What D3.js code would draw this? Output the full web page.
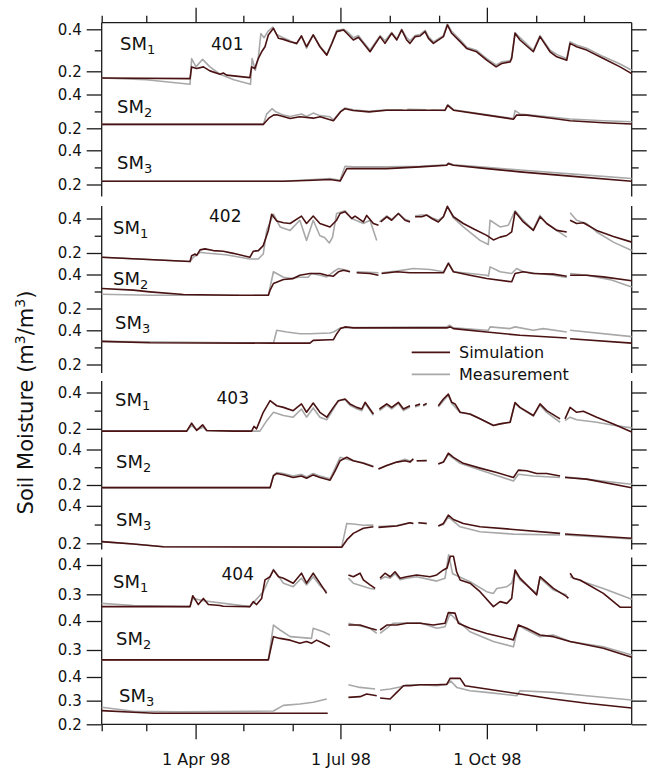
<!DOCTYPE html>
<html>
<head>
<meta charset="utf-8">
<script src="https://cdn.jsdelivr.net/npm/d3@7"></script>
<style>
  body { margin: 0; background: #fff; }
  svg text { font-family: "DejaVu Sans", sans-serif; fill: #111; }
</style>
</head>
<body>
<div id="plot"></div>
<script>
// soil moisture, sites 401-404, three layers each
// points are [day of year 1998, value in m3/m3]; null marks a gap in the record

const sites = ["401", "402", "403", "404"];
const layers = ["1", "2", "3"];
const seriesNames = ["Simulation", "Measurement"];
const xMajor = ["1998-04-01", "1998-07-01", "1998-10-01"];

const sim401_1 = [[32,.168],[87.5,.165],[88.5,.221],[91.7,.213],[95.9,.221],[100,.202],[106.3,.186],[108.4,.192],[110.5,.182],[125.1,.170],[126.2,.221],[128.2,.213],[130.4,.261],[132.5,.293],[134.6,.317],[136.7,.373],[139.9,.405],[143.1,.357],[146.2,.352],[150.4,.341],[154.5,.333],[157.5,.368],[160.7,.317],[164.9,.373],[169.1,.317],[173.4,.277],[176.5,.33],[179.7,.389],[183.9,.397],[186,.381],[190.1,.349],[193.3,.362],[196.4,.333],[200.6,.293],[206.9,.365],[210,.333],[214.2,.381],[217.4,.349],[220.5,.397],[223.6,.349],[225.7,.333],[228.9,.365],[232,.368],[235.2,.389],[237.3,.357],[240.4,.333],[246.7,.365],[249.2,.421],[251.9,.381],[257.2,.341],[261.3,.309],[267.6,.293],[273.9,.253],[279.8,.221],[283.3,.237],[288.6,.245],[289.6,.261],[291.7,.381],[294.8,.349],[303.2,.293],[307.4,.365],[313.7,.293],[317.9,.269],[324.2,.253],[326.3,.333],[330.4,.317],[336.7,.301],[347.2,.261],[357.7,.221],[365,.189]];
const meas401_1 = [[32,.168],[60,.16],[87.5,.138],[88.5,.261],[91.2,.221],[95.4,.257],[100,.221],[106.3,.186],[115,.16],[125.5,.138],[126.5,.261],[128.5,.205],[130.5,.27],[132,.38],[134,.36],[136.5,.39],[139.5,.41],[142,.375],[146,.36],[150.4,.345],[154.5,.33],[157.5,.37],[160.7,.31],[164.9,.375],[169.1,.32],[173.5,.28],[176.5,.335],[179.7,.395],[183.9,.40],[186,.39],[190.1,.36],[193.3,.37],[196.4,.34],[200.6,.30],[206.9,.37],[210,.345],[214.2,.385],[217.4,.355],[220.5,.40],[223.6,.36],[225.7,.345],[228.9,.37],[232,.375],[235.2,.395],[237.3,.365],[240.4,.34],[246.7,.37],[249.2,.425],[251.9,.39],[257.2,.35],[261.3,.315],[267.6,.30],[273.9,.26],[279.8,.23],[283.3,.245],[288.6,.25],[289.6,.27],[291.7,.385],[294.8,.36],[303.2,.30],[307.4,.37],[313.7,.30],[317.9,.28],[324.2,.26],[326.3,.34],[330.4,.325],[336.7,.31],[347.2,.27],[357.7,.235],[365,.205]];
const sim401_2 = [[32,.223],[133.5,.223],[137,.26],[139.9,.278],[142,.28],[146,.27],[150.4,.258],[156.5,.268],[165,.26],[169.2,.268],[177.6,.245],[182,.297],[184.9,.316],[190,.305],[200,.297],[211,.307],[232,.307],[247.7,.307],[249.4,.336],[253,.307],[273.9,.278],[290.7,.254],[292.7,.278],[299,.278],[315.8,.258],[326.3,.245],[347.2,.233],[365,.225]];
const meas401_2 = [[32,.223],[133.5,.223],[135.7,.285],[139,.316],[141,.30],[146.2,.278],[150.4,.27],[157.5,.285],[160.7,.27],[164.9,.29],[169.1,.275],[175.4,.268],[177.6,.25],[182,.30],[184.9,.32],[190,.31],[200,.30],[211,.31],[221,.31],[222,null],[224,.312],[236,.31],[237,null],[239,.308],[247.7,.305],[249.4,.34],[253,.31],[273.9,.28],[290.7,.258],[291.7,.305],[294.8,.285],[315.8,.265],[326.3,.255],[347.2,.245],[365,.239]];
const sim401_3 = [[32,.219],[146,.219],[165,.225],[175.4,.229],[181.8,.22],[186,.293],[190,.293],[211,.293],[232,.303],[248.8,.313],[249.8,.322],[253,.313],[273.9,.293],[294.8,.274],[326.3,.249],[365,.219]];
const meas401_3 = [[32,.219],[146,.219],[165,.229],[175.4,.235],[181.8,.225],[184.9,.307],[190,.303],[211,.303],[232,.307],[248.8,.315],[249.8,.326],[253,.315],[273.9,.30],[294.8,.285],[326.3,.262],[365,.235]];

const sim402_1 = [[32,.175],[87.5,.151],[88.5,.184],[90.7,.194],[91.7,.186],[93.8,.218],[96.9,.224],[102.1,.214],[108.4,.21],[114.7,.198],[125.1,.175],[127.2,.21],[130.4,.214],[133.5,.243],[136.7,.331],[138.8,.425],[142,.386],[146.2,.375],[150.4,.371],[157.5,.414],[160.7,.371],[164.9,.414],[169.1,.371],[175.4,.351],[179.6,.39],[181.8,.429],[184.9,.439],[189.1,.40],[191.2,.414],[196.4,.38],[198.5,.418],[202.7,.371],[205.9,.361],[206.4,null],[207.3,.38],[211.1,.41],[214.2,.39],[218.4,.429],[222.6,.39],[225.7,.38],[227,null],[228.9,.41],[233.1,.41],[236.2,.42],[239.4,.40],[243.5,.38],[246.7,.41],[249.2,.469],[253,.41],[259.2,.371],[265.5,.341],[273.9,.302],[278.1,.276],[282.3,.292],[286.5,.302],[289.6,.322],[291.7,.439],[296.9,.38],[303.2,.331],[307.4,.41],[311.6,.371],[317.9,.331],[324.2,.322],[325.2,null],[326.3,.39],[330.4,.371],[334.6,.375],[343,.331],[353.5,.296],[365,.263]];
const meas402_1 = [[32,.175],[87.5,.151],[89.6,.175],[93.8,.204],[97,.20],[110,.19],[125.1,.165],[130.4,.165],[133.5,.194],[135.7,.331],[139.9,.425],[144.1,.351],[150.4,.331],[156.5,.39],[160.7,.273],[164.9,.39],[169.1,.30],[172,.29],[175,.258],[177,.29],[179.6,.429],[184.9,.445],[189.1,.40],[196.4,.371],[200.6,.39],[204.8,.273],[205.9,null],[206.5,.38],[211.1,.415],[214.2,.395],[218.4,.43],[222.6,.395],[225.7,.385],[227,null],[228.9,.415],[233.1,.42],[236.2,.42],[239.4,.405],[243.5,.39],[246.7,.41],[249.2,.473],[253,.404],[259.2,.351],[269.7,.273],[274.9,.249],[276,.39],[282.3,.351],[287.5,.361],[291.7,.445],[296.9,.39],[303.2,.335],[307.4,.418],[311.6,.371],[324.2,.292],[325.2,null],[326.3,.433],[330.4,.39],[336.7,.371],[343,.322],[353.5,.263],[365,.214]];
const sim402_2 = [[32,.318],[51.9,.308],[62.3,.298],[83.3,.282],[114.7,.278],[136.7,.278],[137.8,.308],[139.9,.347],[146.2,.371],[152.3,.376],[156.5,.396],[162.8,.406],[169.2,.406],[173.4,.396],[177.6,.39],[180.7,.416],[183.9,.425],[188,.416],[190.1,null],[192.2,.41],[200.6,.406],[205.9,.396],[206.5,null],[207.9,.406],[217.4,.416],[225.7,.41],[238.3,.41],[246.7,.41],[249.8,.465],[253,.416],[263.4,.396],[273.9,.376],[289.6,.357],[291.7,.406],[296.9,.416],[303.2,.406],[315.8,.402],[324.2,.39],[325.2,null],[326.3,.396],[336.7,.396],[347.2,.386],[365,.363]];
const meas402_2 = [[32,.284],[62.3,.278],[118,.278],[119,null],[127.5,.278],[136.7,.278],[139.9,.416],[146.2,.384],[150.4,.378],[156.5,.384],[161.7,.384],[163.8,.406],[169.2,.396],[173.4,.386],[177.6,.416],[180.7,.435],[186,.425],[188,.416],[190.1,null],[192.2,.416],[205.9,.41],[206.5,null],[207.9,.41],[217.4,.42],[227.8,.435],[238.3,.429],[246.7,.416],[250,.469],[253,.416],[273.9,.396],[275,.39],[276,.445],[282.3,.416],[289.6,.406],[292.7,.435],[296.9,.416],[315.8,.396],[324.2,.382],[325.2,null],[326.3,.406],[336.7,.396],[351.4,.37],[365,.327]];
const sim402_3 = [[32,.335],[62.3,.327],[139.9,.325],[162.8,.325],[164.9,.341],[175.4,.345],[177.6,.345],[179.7,.38],[182,.41],[184.9,.42],[190.1,.414],[248.8,.414],[250.9,.42],[253,.41],[273.9,.39],[294.8,.371],[324.2,.355],[325.2,null],[326.3,.351],[365,.325]];
const meas402_3 = [[32,.335],[139.9,.325],[142,.40],[148.3,.39],[156.5,.38],[162.8,.38],[175.4,.384],[177.6,.39],[182,.414],[190.1,.416],[248.8,.42],[250.5,.43],[253,.414],[273.9,.40],[274.9,.40],[276,.42],[288.6,.41],[291.7,.42],[303.2,.40],[309.5,.41],[324.2,.39],[325.2,null],[326.3,.40],[365,.363]];

const sim403_1 = [[32,.187],[85.4,.187],[88.5,.231],[91.7,.191],[95.4,.222],[98,.191],[114.7,.187],[126.2,.187],[127.7,.213],[129.3,.20],[131.4,.245],[133.5,.291],[137.8,.355],[142,.327],[146.2,.318],[152.3,.30],[157.5,.337],[160.7,.291],[164.9,.342],[169.1,.291],[173.4,.264],[177.6,.318],[180.7,.355],[184.9,.364],[188,.337],[192.2,.318],[195.4,.309],[197.5,.346],[202.7,.282],[204.5,null],[206.5,.309],[211.1,.337],[214.2,.318],[218.4,.346],[221.6,.309],[225.7,.327],[227,null],[228.9,.327],[232,.337],[233.5,null],[234,.33],[236.2,.34],[237.5,null],[243.5,.327],[246.7,.364],[249.8,.391],[251.9,.346],[254,.337],[257.2,.291],[263.4,.282],[269.7,.255],[278.1,.218],[282.3,.227],[288.6,.236],[291.7,.345],[294.8,.318],[303.2,.273],[307.4,.337],[311.6,.30],[320,.255],[321.5,null],[323.1,.255],[326.3,.318],[330.4,.291],[334.6,.297],[343,.264],[353.5,.227],[365,.182]];
const meas403_1 = [[32,.187],[85.4,.187],[88.5,.218],[91.7,.195],[95.9,.209],[98,.19],[131.4,.187],[135.7,.245],[139.9,.291],[146.2,.273],[152.3,.264],[157.5,.309],[160.7,.264],[164.9,.315],[169.1,.264],[173.4,.25],[177.6,.309],[180.7,.355],[184.9,.36],[188,.33],[192.2,.31],[195.4,.30],[197.5,.34],[202.7,.275],[204.5,null],[206.5,.30],[211.1,.33],[214.2,.31],[218.4,.34],[221.6,.30],[225.7,.32],[227,null],[228.9,.32],[232,.33],[233.5,null],[234,.325],[236.2,.335],[237.5,null],[243.5,.32],[246.7,.355],[249.8,.385],[251.9,.34],[257.2,.29],[263.4,.28],[269.7,.255],[278.1,.22],[282.3,.227],[288.6,.236],[291.7,.34],[294.8,.315],[303.2,.27],[307.4,.33],[311.6,.29],[320,.236],[321.5,null],[323.1,.245],[326.3,.264],[330.4,.25],[343,.236],[353.5,.22],[365,.205]];
const sim403_2 = [[32,.185],[137.8,.185],[139.9,.251],[142,.265],[146.2,.258],[152.3,.242],[157.5,.251],[160.7,.238],[164.9,.257],[169.2,.242],[175.5,.227],[178.6,.278],[181.8,.337],[186,.356],[190.1,.337],[196.4,.322],[202.7,.303],[204,null],[205.9,.29],[211.1,.31],[217.4,.329],[222.6,.337],[225.7,.329],[227.8,.348],[229,null],[229.9,.337],[236.2,.337],[238,null],[243.5,.318],[246.7,.329],[249.8,.379],[253,.356],[259.2,.322],[269.7,.295],[280.2,.27],[290.7,.242],[293.8,.284],[299,.28],[305.3,.265],[311.6,.265],[320,.251],[321.5,null],[323.1,.242],[336.7,.233],[365,.185]];
const meas403_2 = [[32,.185],[137.8,.185],[139.9,.255],[142,.27],[146.2,.265],[152.3,.25],[157.5,.26],[160.7,.245],[164.9,.265],[169.2,.25],[175.5,.235],[181.8,.356],[186,.345],[190.1,.337],[196.4,.325],[202.7,.305],[204,null],[205.9,.29],[211.1,.31],[217.4,.33],[222.6,.345],[225.7,.335],[227.8,.34],[229,null],[229.9,.335],[236.2,.34],[238,null],[243.5,.32],[246.7,.33],[249.8,.371],[257.2,.322],[269.7,.284],[290.7,.223],[293.8,.261],[303.2,.251],[320,.242],[321.5,null],[323.1,.246],[365,.204]];
const sim403_3 = [[32,.209],[51.9,.196],[70.7,.182],[182.8,.179],[186,.218],[190.1,.253],[196.4,.28],[202.7,.288],[204,null],[205.9,.285],[217.4,.292],[225.7,.31],[227.8,.306],[229,null],[231,.31],[236.2,.306],[238,null],[243.5,.292],[246.7,.306],[249.8,.35],[253,.327],[259.2,.306],[269.7,.288],[290.7,.274],[320,.253],[321.5,null],[323.1,.25],[365,.227]];
const meas403_3 = [[32,.209],[51.9,.196],[70.7,.182],[182.8,.182],[186,.306],[190.1,.303],[196.4,.296],[202.7,.297],[204,null],[205.9,.29],[217.4,.295],[225.7,.31],[227.8,.305],[229,null],[231,.31],[236.2,.305],[238,null],[243.5,.292],[246.7,.30],[249.8,.341],[257.2,.288],[269.7,.262],[290.7,.249],[320,.244],[321.5,null],[323.1,.244],[365,.223]];

const sim404_1 = [[32,.258],[87.5,.258],[89.2,.295],[92.7,.265],[95.9,.286],[99,.265],[106.3,.262],[108.4,.259],[125.1,.258],[127.2,.275],[129.3,.265],[132.5,.286],[134.6,.349],[137.8,.36],[139.9,.383],[143.1,.36],[146.2,.355],[152.3,.338],[157.5,.372],[160.7,.338],[164.9,.372],[169.1,.338],[173.3,.303],[180,null],[187,.366],[190.1,.36],[194.3,.372],[196.4,.349],[200.6,.332],[203.8,.32],[205,null],[206.9,.355],[210,.372],[213.2,.36],[216.3,.377],[219.5,.355],[223.6,.36],[229.9,.366],[238.3,.36],[242.5,.366],[246.7,.383],[249,.39],[251,.43],[253,.43],[255,.377],[257.2,.349],[263.4,.338],[269.7,.309],[278.1,.258],[282.3,.275],[286.5,.269],[289.6,.286],[291.7,.383],[294.8,.355],[305.3,.298],[307.4,.36],[315.8,.32],[324.2,.292],[325.2,.286],[325.8,null],[326.3,.372],[328.3,.355],[332.5,.349],[347.2,.303],[357.7,.256],[365,.256]];
const meas404_1 = [[32,.269],[51.9,.262],[87.5,.258],[89.2,.286],[95.9,.278],[125.1,.258],[133.5,.309],[139.9,.385],[146.2,.338],[152.3,.326],[157.5,.355],[160.7,.332],[164.9,.36],[169.1,.33],[173.3,.309],[180,null],[187,.355],[190.1,.338],[200.6,.32],[203.8,.317],[205,null],[206.9,.35],[210,.36],[213.2,.355],[216.3,.37],[219.5,.35],[223.6,.355],[229.9,.36],[238.3,.35],[242.5,.345],[247.7,.355],[250,.435],[252.5,.37],[263.4,.343],[273.9,.309],[278.1,.303],[280.2,.32],[286.5,.326],[289.6,.338],[291.7,.377],[294.8,.349],[305.3,.303],[307.4,.355],[315.8,.315],[324.2,.298],[325.5,null],[326.3,.36],[334.6,.343],[347.2,.32],[365,.283]];
const sim404_2 = [[32,.266],[136.7,.266],[137.8,.294],[139.9,.346],[144.1,.34],[150.4,.334],[156.5,.323],[160.7,.329],[163.8,.323],[167,.334],[171.2,.323],[175.4,.311],[180,null],[187,.386],[194.3,.386],[200.6,.375],[204.8,.369],[205.5,null],[206.9,.369],[211.1,.386],[217.4,.386],[223.6,.392],[232,.392],[240.4,.386],[247.7,.392],[249.8,.429],[254,.427],[256.1,.392],[263.4,.375],[273.9,.357],[290.7,.335],[293.8,.386],[299,.375],[307.4,.352],[315.8,.346],[326.3,.329],[347.2,.306],[365,.275]];
const meas404_2 = [[32,.266],[136.7,.266],[139.9,.386],[144.1,.369],[150.4,.346],[163.8,.34],[164.9,.375],[171.2,.363],[175.4,.352],[180,null],[187,.392],[200.6,.375],[204.8,.357],[205.5,null],[206.9,.357],[215,.392],[232,.394],[242.5,.375],[247.7,.38],[250.9,.425],[255.1,.403],[263.4,.363],[278.1,.329],[290.7,.311],[293.8,.386],[299,.369],[307.4,.346],[315.8,.352],[326.3,.329],[347.2,.311],[365,.283]];
const sim404_3 = [[32,.258],[51.9,.251],[65,.247],[174,.247],[180,null],[187,.314],[194.3,.317],[198.5,.328],[204.8,.321],[205.5,null],[206.9,.311],[213.2,.307],[217.4,.335],[221.6,.363],[225.7,.363],[232,.367],[242.5,.367],[248.8,.369],[250.9,.394],[257.2,.394],[260.3,.363],[273.9,.349],[294.8,.328],[315.8,.307],[336.7,.289],[365,.269]];
const meas404_3 = [[32,.272],[51.9,.255],[80,.253],[139.9,.256],[146.2,.28],[156.5,.286],[164.9,.293],[173.4,.307],[180,null],[187,.367],[194.3,.356],[203.8,.349],[205.5,null],[206.9,.344],[213.2,.349],[219.5,.358],[223.6,.367],[232,.367],[242.5,.363],[248.8,.369],[251.3,.383],[255.1,.356],[263.4,.342],[273.9,.335],[292.7,.321],[294.8,.342],[315.8,.335],[336.7,.321],[365,.303]];

const data = {
  "401": [[sim401_1, meas401_1], [sim401_2, meas401_2], [sim401_3, meas401_3]],
  "402": [[sim402_1, meas402_1], [sim402_2, meas402_2], [sim402_3, meas402_3]],
  "403": [[sim403_1, meas403_1], [sim403_2, meas403_2], [sim403_3, meas403_3]],
  "404": [[sim404_1, meas404_1], [sim404_2, meas404_2], [sim404_3, meas404_3]]
};

// layout: vertical extent of each panel and pixel rows of each strip
const w = 652, h = 769;
const left = 101.7, right = 631.7;
const panels = [
  {top: 22.7, bottom: 196.5, num: [211, 50], strips: [
    {d: [0.2, 0.4], r: [71.3, 29.3], major: [0.2, 0.4], minor: [0.3], label: [120, 50]},
    {d: [0.2, 0.4], r: [128.3, 94.5], major: [0.2, 0.4], minor: [0.3], label: [117, 112.5]},
    {d: [0.2, 0.4], r: [184.5, 150.3], major: [0.2, 0.4], minor: [0.3], label: [117, 168.5]}]},
  {top: 206, bottom: 373, num: [209, 222], strips: [
    {d: [0.2, 0.4], r: [253, 218.5], major: [0.2, 0.4], minor: [0.3], label: [113, 233.5]},
    {d: [0.2, 0.4], r: [308.5, 274.5], major: [0.2, 0.4], minor: [0.3], label: [113, 284.5]},
    {d: [0.2, 0.4], r: [364.5, 330.3], major: [0.2, 0.4], minor: [0.3], label: [115, 328.5]}]},
  {top: 381, bottom: 549.5, num: [216.5, 403.5], strips: [
    {d: [0.2, 0.4], r: [428.8, 392.5], major: [0.2, 0.4], minor: [0.3], label: [115, 406]},
    {d: [0.2, 0.4], r: [485, 449.5], major: [0.2, 0.4], minor: [0.3], label: [116, 467.5]},
    {d: [0.2, 0.4], r: [543.3, 505.8], major: [0.2, 0.4], minor: [0.3], label: [116, 526]}]},
  {top: 557.5, bottom: 724.3, num: [221.5, 580], strips: [
    {d: [0.3, 0.4], r: [594.3, 565], major: [0.3, 0.4], minor: [], label: [113, 587.5]},
    {d: [0.3, 0.4], r: [650, 621], major: [0.3, 0.4], minor: [], label: [116, 645]},
    {d: [0.2, 0.4], r: [724.3, 677], major: [0.2, 0.3, 0.4], minor: [], label: [119, 702]}]}
];

const colors = {Simulation: "#4a1212", Measurement: "#a8a8a8"};
const axisColor = "#1a1a1a";

const t0 = new Date(1998, 0, 1).getTime();
const day = d => new Date(t0 + (d - 1) * 864e5);

const x = d3.scaleTime()
    .domain([day(32), day(365)])
    .range([left, right]);

const parse = d3.timeParse("%Y-%m-%d");
const majorDates = xMajor.map(parse);
const minorDates = d3.timeMonth.range(day(32), day(366))
    .filter(m => !majorDates.some(d => +d === +m));

const svg = d3.select("#plot")
  .append("svg")
    .attr("width", w)
    .attr("height", h);

const styleAxis = g => {
  g.select(".domain").remove();
  g.selectAll("line").attr("stroke", axisColor).attr("stroke-width", 1.3);
};

// top and bottom time axes
const frameTop = panels[0].top, frameBottom = panels[3].bottom;

svg.append("g").attr("transform", `translate(0,${frameTop})`)
    .call(d3.axisTop(x).tickValues(minorDates).tickSize(7).tickFormat(""))
    .call(styleAxis);
svg.append("g").attr("transform", `translate(0,${frameTop})`)
    .call(d3.axisTop(x).tickValues(majorDates).tickSize(15).tickFormat(""))
    .call(styleAxis);
svg.append("g").attr("transform", `translate(0,${frameBottom})`)
    .call(d3.axisBottom(x).tickValues(minorDates).tickSize(7).tickFormat(""))
    .call(styleAxis);
svg.append("g").attr("transform", `translate(0,${frameBottom})`)
    .call(d3.axisBottom(x).tickValues(majorDates).tickSize(15).tickPadding(14)
      .tickFormat(d3.timeFormat("%-d %b %y")))
    .call(styleAxis)
    .call(g => g.selectAll("text")
      .attr("font-size", 16)
      .attr("font-family", "DejaVu Sans, sans-serif")
      .attr("fill", "#111"));

[frameTop, frameBottom].forEach(y => {
  svg.append("line")
      .attr("x1", left).attr("x2", right)
      .attr("y1", y).attr("y2", y)
      .attr("stroke", axisColor).attr("stroke-width", 1.3);
});

const line = d3.line()
    .defined(d => d[1] != null);

panels.forEach((p, i) => {
  const site = sites[i];

  // panel side lines
  [left, right].forEach(xx => {
    svg.append("line")
        .attr("x1", xx).attr("x2", xx)
        .attr("y1", p.top).attr("y2", p.bottom)
        .attr("stroke", axisColor).attr("stroke-width", 1.3);
  });

  svg.append("text")
      .attr("x", p.num[0]).attr("y", p.num[1])
      .attr("font-size", 17)
      .text(site);

  p.strips.forEach((s, j) => {
    const y = d3.scaleLinear().domain(s.d).range(s.r);

    svg.append("g").attr("transform", `translate(${left},0)`)
        .call(d3.axisLeft(y).tickValues(s.major).tickSize(15).tickPadding(5)
          .tickFormat(d3.format(".1f")))
        .call(styleAxis)
        .call(g => g.selectAll("text")
          .attr("font-size", 15)
          .attr("font-family", "DejaVu Sans, sans-serif")
          .attr("fill", "#111"));
    svg.append("g").attr("transform", `translate(${left},0)`)
        .call(d3.axisLeft(y).tickValues(s.minor).tickSize(7).tickFormat(""))
        .call(styleAxis);
    svg.append("g").attr("transform", `translate(${right},0)`)
        .call(d3.axisRight(y).tickValues(s.major).tickSize(15).tickFormat(""))
        .call(styleAxis);
    svg.append("g").attr("transform", `translate(${right},0)`)
        .call(d3.axisRight(y).tickValues(s.minor).tickSize(7).tickFormat(""))
        .call(styleAxis);

    // measurement under simulation
    const [sim, meas] = data[site][j];
    line.x(d => x(day(d[0]))).y(d => y(d[1]));

    svg.append("path")
        .datum(meas)
        .attr("d", line)
        .attr("fill", "none")
        .attr("stroke", colors.Measurement)
        .attr("stroke-width", 1.6)
        .attr("stroke-linejoin", "round");
    svg.append("path")
        .datum(sim)
        .attr("d", line)
        .attr("fill", "none")
        .attr("stroke", colors.Simulation)
        .attr("stroke-width", 1.6)
        .attr("stroke-linejoin", "round");

    const lab = svg.append("text")
        .attr("x", s.label[0]).attr("y", s.label[1])
        .attr("font-size", 18)
        .text("SM");
    lab.append("tspan")
        .attr("font-size", 13)
        .attr("dy", 4)
        .text(layers[j]);
  });
});

// legend
const legend = svg.append("g");
seriesNames.forEach((name, i) => {
  const ly = 352.3 + i * 22;
  legend.append("line")
      .attr("x1", 411.7).attr("x2", 450)
      .attr("y1", ly).attr("y2", ly)
      .attr("stroke", colors[name])
      .attr("stroke-width", 1.8);
  legend.append("text")
      .attr("x", 459).attr("y", ly + 6)
      .attr("font-size", 16)
      .text(name);
});

// y title
svg.append("text")
    .attr("transform", "translate(32.5,402.5) rotate(-90)")
    .attr("text-anchor", "middle")
    .attr("font-size", 21)
    .attr("font-family", "Liberation Sans, Arial, sans-serif")
    .text("Soil Moisture (m")
  .call(t => {
    t.append("tspan").attr("font-size", 14).attr("dy", -8).text("3");
    t.append("tspan").attr("dy", 8).text("/m");
    t.append("tspan").attr("font-size", 14).attr("dy", -8).text("3");
    t.append("tspan").attr("dy", 8).text(")");
  });
</script>
</body>
</html>
